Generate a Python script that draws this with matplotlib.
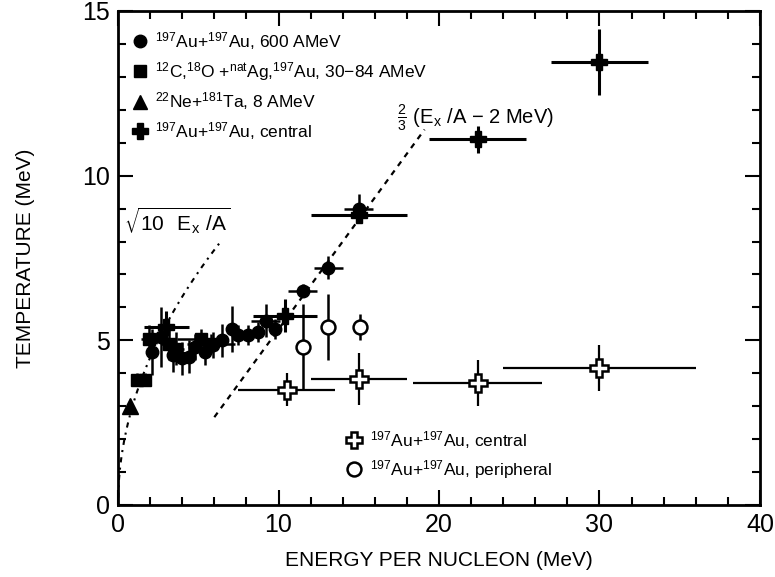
import numpy as np
import matplotlib.pyplot as plt
from matplotlib.lines import Line2D

plt.rcParams['font.family'] = ['Liberation Sans', 'DejaVu Sans']
plt.rcParams['mathtext.default'] = 'regular'

# 197Au+197Au, 600 AMeV (filled circles)
au600_x = [2.1, 2.7, 3.4, 4.0, 4.4, 4.8, 5.4, 5.9, 6.5, 7.1, 7.5, 8.1, 8.7, 9.2, 9.8, 11.5, 13.1, 15.0]
au600_y = [4.65, 5.1, 4.55, 4.45, 4.5, 4.8, 4.65, 4.85, 5.0, 5.35, 5.15, 5.15, 5.25, 5.6, 5.35, 6.5, 7.2, 9.0]
au600_xerr = [0.3, 0.3, 0.3, 0.3, 0.3, 0.3, 0.3, 0.3, 0.3, 0.3, 0.3, 0.3, 0.3, 0.9, 0.3, 0.9, 0.9, 0.9]
au600_yerr = [0.7, 0.9, 0.5, 0.5, 0.5, 0.4, 0.4, 0.4, 0.5, 0.7, 0.3, 0.3, 0.3, 0.5, 0.3, 0.2, 0.35, 0.45]

# 12C,18O + natAg,197Au, 30-84 AMeV (filled squares)
cag_x = [1.2, 1.7, 1.9, 3.2, 3.6, 5.2, 5.8]
cag_y = [3.8, 3.8, 5.05, 4.9, 4.75, 5.05, 4.9]
cag_xerr = [0.2, 0.2, 0.5, 0.5, 0.5, 1.5, 1.5]
cag_yerr = [0.2, 0.2, 0.4, 0.5, 0.5, 0.3, 0.3]

# 22Ne+181Ta, 8 AMeV (triangle)
neta_x = [0.75]
neta_y = [3.0]

# 197Au+197Au central, filled crosses
cen_x = [3.0, 10.4, 15.0, 22.4, 30.0]
cen_y = [5.4, 5.75, 8.8, 11.1, 13.45]
cen_xerr = [1.4, 2.0, 3.0, 3.0, 3.0]
cen_yerr = [0.5, 0.5, 0.2, 0.4, 1.0]

# 197Au+197Au central, open crosses
ocen_x = [10.5, 15.0, 22.4, 30.0]
ocen_y = [3.5, 3.83, 3.7, 4.15]
ocen_xerr = [3.0, 3.0, 4.0, 6.0]
ocen_yerr = [0.5, 0.8, 0.7, 0.7]

# 197Au+197Au peripheral, open circles
per_x = [11.5, 13.1, 15.1]
per_y = [4.8, 5.4, 5.4]
per_yerr = [1.3, 1.0, 0.4]

fig = plt.figure(figsize=(7.75, 5.77), dpi=100)
ax = fig.add_axes([0.1523, 0.1248, 0.8283, 0.8562])

# curves
e1 = np.linspace(0, 6.4, 200)
ax.plot(e1, np.sqrt(10 * e1), color='black', lw=1.5, ls=(0, (1, 2.5, 2.5, 2.5)))
e2 = np.array([6.0, 19.1])
ax.plot(e2, 2.0 / 3.0 * (e2 - 2.0), color='black', lw=1.6, ls=(0, (2.5, 2.5)))

eb = dict(fmt='none', ecolor='black', capsize=0)
ax.errorbar(cag_x, cag_y, xerr=cag_xerr, yerr=cag_yerr, elinewidth=1.8, **eb)
ax.errorbar(au600_x, au600_y, xerr=au600_xerr, yerr=au600_yerr, elinewidth=1.8, **eb)
ax.errorbar(cen_x, cen_y, xerr=cen_xerr, yerr=cen_yerr, elinewidth=2.2, **eb)
ax.errorbar(ocen_x, ocen_y, xerr=ocen_xerr, yerr=ocen_yerr, elinewidth=1.6, **eb)
ax.errorbar(per_x, per_y, yerr=per_yerr, elinewidth=1.8, **eb)

ax.plot(cag_x, cag_y, 's', color='black', ms=9, ls='none')
ax.plot(au600_x, au600_y, 'o', color='black', ms=9, ls='none')
ax.plot(neta_x, neta_y, '^', color='black', ms=11, ls='none')
ax.plot(cen_x, cen_y, 'P', color='black', ms=11, ls='none')
ax.plot(ocen_x, ocen_y, 'P', mfc='white', mec='black', mew=1.8, ms=13, ls='none')
ax.plot(per_x, per_y, 'o', mfc='white', mec='black', mew=1.8, ms=10, ls='none')

ax.text(0.4, 8.65, r'$\sqrt{10\ \ E_{x}\ /A}$', fontsize=15, va='center', ha='left')
ax.text(17.4, 11.75, r'$\frac{2}{3}$ (E$_{x}$ /A $-$ 2 MeV)', fontsize=14.5, va='center', ha='left')

h1 = [Line2D([], [], marker='o', color='black', ls='none', ms=9),
      Line2D([], [], marker='s', color='black', ls='none', ms=9),
      Line2D([], [], marker='^', color='black', ls='none', ms=10),
      Line2D([], [], marker='P', color='black', ls='none', ms=11)]
l1 = [r'$^{197}$Au+$^{197}$Au, 600 AMeV',
      r'$^{12}$C,$^{18}$O +$^{nat}$Ag,$^{197}$Au, 30$-$84 AMeV',
      r'$^{22}$Ne+$^{181}$Ta, 8 AMeV',
      r'$^{197}$Au+$^{197}$Au, central']
leg1 = ax.legend(h1, l1, loc='upper left', bbox_to_anchor=(-0.015, 1.0), frameon=False,
                 fontsize=12.5, handletextpad=0.2, labelspacing=0.45, handlelength=1.4,
                 borderaxespad=0.7)
ax.add_artist(leg1)

h2 = [Line2D([], [], marker='P', mfc='white', mec='black', mew=1.8, ls='none', ms=12),
      Line2D([], [], marker='o', mfc='white', mec='black', mew=1.8, ls='none', ms=10)]
l2 = [r'$^{197}$Au+$^{197}$Au, central', r'$^{197}$Au+$^{197}$Au, peripheral']
ax.legend(h2, l2, loc='lower left', bbox_to_anchor=(0.325, 0.017), frameon=False,
          fontsize=12.5, handletextpad=0.2, labelspacing=0.4, handlelength=1.4)

ax.set_xlim(0, 40)
ax.set_ylim(0, 15)
ax.set_xticks([0, 10, 20, 30, 40])
ax.set_xticks(np.arange(0, 41, 2), minor=True)
ax.set_yticks([0, 5, 10, 15])
ax.set_yticks(np.arange(0, 16, 1), minor=True)
ax.tick_params(which='both', direction='in', top=True, right=True, width=1.5, labelsize=18, pad=6)
ax.tick_params(which='major', length=11)
ax.tick_params(which='minor', length=6)
for s in ax.spines.values():
    s.set_linewidth(2)

ax.set_xlabel('ENERGY PER NUCLEON (MeV)', fontsize=15, labelpad=10)
ax.set_ylabel('TEMPERATURE (MeV)', fontsize=15, labelpad=34)

fig.savefig('out.png', dpi=100)
